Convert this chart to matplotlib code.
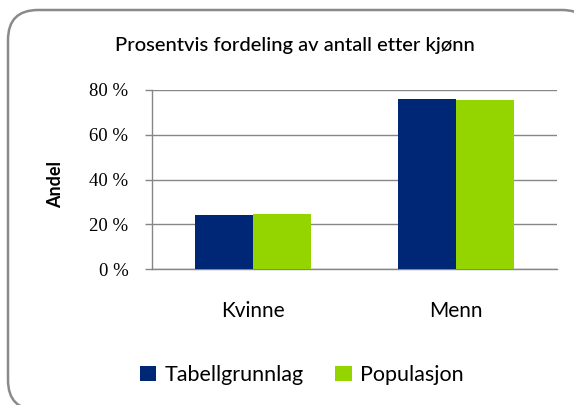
import matplotlib
matplotlib.use("Agg")
import matplotlib.pyplot as plt
from matplotlib.patches import FancyBboxPatch
import numpy as np

categories = ["Kvinne", "Menn"]
series_names = ["Tabellgrunnlag", "Populasjon"]
tabellgrunnlag = [24.1, 76.0]
populasjon = [24.6, 75.5]
yticks = [0, 20, 40, 60, 80]
ytick_labels = ["0 %", "20 %", "40 %", "60 %", "80 %"]
colors = ["#002776", "#94D500"]

W, H = 574, 405
fig = plt.figure(figsize=(W / 100, H / 100), dpi=100)
fig.patch.set_facecolor("white")

# rounded frame (filled so that the renderer does not clip it to the canvas)
frame = FancyBboxPatch((8, -5), 584, 400, boxstyle="round,pad=0,rounding_size=30",
                       transform=None, facecolor="white", edgecolor="#8a8a8a",
                       linewidth=1.8, zorder=-5)
fig.patches.append(frame)

ax = fig.add_axes([152 / W, 1 - 269 / H, (557 - 152) / W, (269 - 90) / H])
ax.set_facecolor("none")
x = np.arange(len(categories))
bw = 0.286
ax.bar(x - bw / 2, tabellgrunnlag, bw, color=colors[0], label=series_names[0], zorder=3)
ax.bar(x + bw / 2, populasjon, bw, color=colors[1], label=series_names[1], zorder=3)

ax.set_xlim(-0.5, 1.5)
ax.set_ylim(0, 80)
ax.set_yticks(yticks)
ax.set_yticklabels(ytick_labels, family="Liberation Serif", fontsize=13.5)
ax.set_xticks(x)
ax.set_xticklabels(categories, family="Lato", fontsize=15)
ax.tick_params(axis="x", length=0, pad=23)
ax.tick_params(axis="y", length=5, color="#868686", width=1, pad=12)
ax.grid(axis="y", color="#868686", linewidth=1, zorder=0)
for s in ["top", "right"]:
    ax.spines[s].set_visible(False)
for s in ["left", "bottom"]:
    ax.spines[s].set_color("#868686")
    ax.spines[s].set_linewidth(1)

fig.text(295 / W, 1 - 46 / H, "Prosentvis fordeling av antall etter kjønn",
         family="Lato", fontsize=14.5, fontweight="medium", ha="center", va="center")
fig.text(56 / W, 1 - 184 / H, "Andel", family="Lato", fontsize=13, fontweight="bold",
         rotation=90, ha="center", va="center")

fig.legend(loc="center", bbox_to_anchor=(302 / W, 1 - 375 / H), ncol=2, frameon=False,
           prop={"family": "Lato", "size": 15.5}, handlelength=0.75, handleheight=0.75,
           handletextpad=0.4, columnspacing=1.45)

fig.savefig("out.png", dpi=100)
